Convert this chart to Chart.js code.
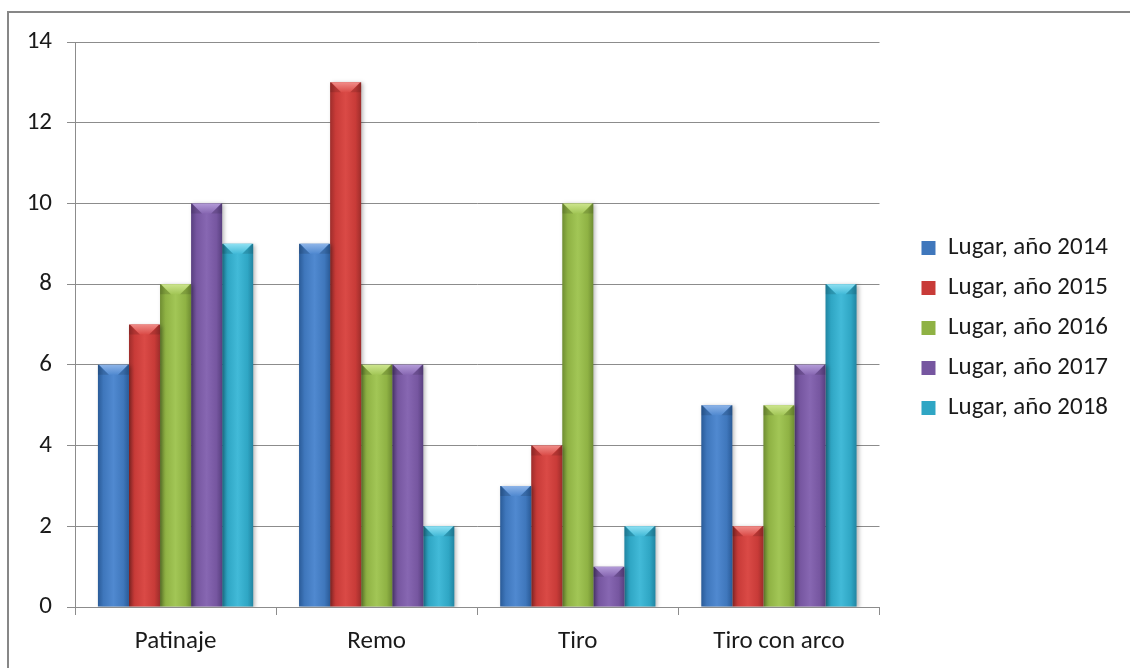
<!DOCTYPE html>
<html>
<head>
<meta charset="utf-8">
<script src="https://cdn.jsdelivr.net/npm/chart.js@4.4.1/dist/chart.umd.min.js"></script>
<style>
  html, body { margin: 0; padding: 0; background: #fff; overflow: hidden; }
  #wrap { position: relative; width: 1130px; height: 668px; }
  #frame { position: absolute; left: 7px; top: 11px; width: 2000px; height: 2000px;
           border: 2px solid #878787; box-sizing: border-box; pointer-events: none; }
  canvas { position: absolute; left: 0; top: 0; }
</style>
</head>
<body>
<div id="wrap">
  <canvas id="c" width="1130" height="668"></canvas>
  <div id="frame"></div>
</div>
<script>
const categories = ["Patinaje", "Remo", "Tiro", "Tiro con arco"];
const seriesNames = ["Lugar, año 2014", "Lugar, año 2015", "Lugar, año 2016", "Lugar, año 2017", "Lugar, año 2018"];
const values2014 = [6, 9, 3, 5];
const values2015 = [7, 13, 4, 2];
const values2016 = [8, 6, 10, 5];
const values2017 = [10, 6, 1, 6];
const values2018 = [9, 2, 2, 8];
const yTicks = [0, 2, 4, 6, 8, 10, 12, 14];

const baseColors = ["#3F77BC", "#C83B38", "#8FB244", "#7656A0", "#2FA6C4"];
const darkColors = ["#2A5B98", "#9E2D2B", "#6F8D32", "#594080", "#2185A2"];
const lightColors = ["#5089D0", "#DA4A46", "#A2C656", "#8767B2", "#42BAD8"];
const topColors = ["#8DB4E8", "#F08C88", "#CDE58E", "#B39BD8", "#8EE0F2"];

const allValues = [values2014, values2015, values2016, values2017, values2018];

const FONT = "Carlito, Lato, 'Liberation Sans', sans-serif";
const FS = 25;

const bevelPlugin = {
  id: 'bevel',
  beforeLayout(chart) {
    const lg = chart.legend;
    if (lg && !lg._patched) {
      const orig = lg.fit.bind(lg);
      lg.fit = function () { orig(); this.width += 19; };
      lg._patched = true;
    }
  },
  afterLayout(chart) {
    const lg = chart.legend;
    if (lg) {
      lg.left += 27;
      lg.top -= 27;
      lg.bottom -= 27;
    }
  },
  beforeDatasetsDraw(chart) {
    const ctx = chart.ctx;
    ctx.save();
    ctx.shadowColor = 'rgba(0,0,0,0.28)';
    ctx.shadowBlur = 4;
    ctx.shadowOffsetX = 2;
    ctx.shadowOffsetY = 1;
    chart.data.datasets.forEach((ds, di) => {
      const meta = chart.getDatasetMeta(di);
      meta.data.forEach(bar => {
        const w = bar.width, l = bar.x - w / 2;
        const g = ctx.createLinearGradient(l, 0, l + w, 0);
        g.addColorStop(0, darkColors[di]);
        g.addColorStop(0.18, baseColors[di]);
        g.addColorStop(0.5, lightColors[di]);
        g.addColorStop(0.82, baseColors[di]);
        g.addColorStop(1, darkColors[di]);
        bar.options = Object.assign({}, bar.options, { backgroundColor: g });
      });
    });
  },
  afterDatasetsDraw(chart) {
    const ctx = chart.ctx;
    ctx.restore();
    ctx.save();
    chart.data.datasets.forEach((ds, di) => {
      const meta = chart.getDatasetMeta(di);
      meta.data.forEach(bar => {
        const w = bar.width, l = bar.x - w / 2, r = bar.x + w / 2, t = bar.y;
        const h = Math.min(10, bar.base - t);
        const g = ctx.createLinearGradient(0, t, 0, t + h);
        g.addColorStop(0, topColors[di]);
        g.addColorStop(1, lightColors[di]);
        ctx.fillStyle = g;
        ctx.beginPath();
        ctx.moveTo(l + 1, t);
        ctx.lineTo(r - 1, t);
        ctx.lineTo(r - 1 - h, t + h);
        ctx.lineTo(l + 1 + h, t + h);
        ctx.closePath();
        ctx.fill();
        ctx.fillStyle = 'rgba(0,0,0,0.12)';
        ctx.beginPath();
        ctx.moveTo(l, t); ctx.lineTo(l + 1 + h, t + h); ctx.lineTo(l, t + h); ctx.closePath(); ctx.fill();
        ctx.beginPath();
        ctx.moveTo(r, t); ctx.lineTo(r - 1 - h, t + h); ctx.lineTo(r, t + h); ctx.closePath(); ctx.fill();
      });
    });
    ctx.restore();
  }
};

const GRID = '#8C8C8C';

new Chart(document.getElementById('c'), {
  type: 'bar',
  data: {
    labels: categories,
    datasets: allValues.map((vals, i) => ({
      label: seriesNames[i],
      data: vals,
      backgroundColor: baseColors[i],
      borderWidth: 0,
      categoryPercentage: 0.772,
      barPercentage: 1.0
    }))
  },
  options: {
    responsive: false,
    animation: false,
    devicePixelRatio: 1,
    layout: { padding: { top: 42, left: 0, right: 20, bottom: 0 } },
    plugins: {
      tooltip: { enabled: false },
      legend: {
        position: 'right',
        align: 'center',
        labels: {
          boxWidth: 14,
          boxHeight: 14,
          padding: 15,
          color: '#1a1a1a',
          font: { family: FONT, size: FS }
        }
      }
    },
    scales: {
      x: {
        grid: { display: true, offset: true, drawOnChartArea: false, drawTicks: true, tickLength: 8, color: GRID, lineWidth: 1 },
        border: { display: true, color: GRID, width: 1 },
        ticks: { color: '#1a1a1a', font: { family: FONT, size: FS }, padding: 12, maxRotation: 0 },
        afterFit(scale) { scale.height = 61; }
      },
      y: {
        min: 0, max: 14,
        afterBuildTicks(scale) { scale.ticks = yTicks.map(v => ({ value: v })); },
        grid: { color: GRID, lineWidth: 1, tickLength: 8, drawTicks: true },
        border: { display: true, color: GRID, width: 1 },
        ticks: { color: '#1a1a1a', font: { family: FONT, size: FS }, padding: 15 },
        afterFit(scale) { scale.width = 75; }
      }
    }
  },
  plugins: [bevelPlugin]
});
</script>
</body>
</html>
